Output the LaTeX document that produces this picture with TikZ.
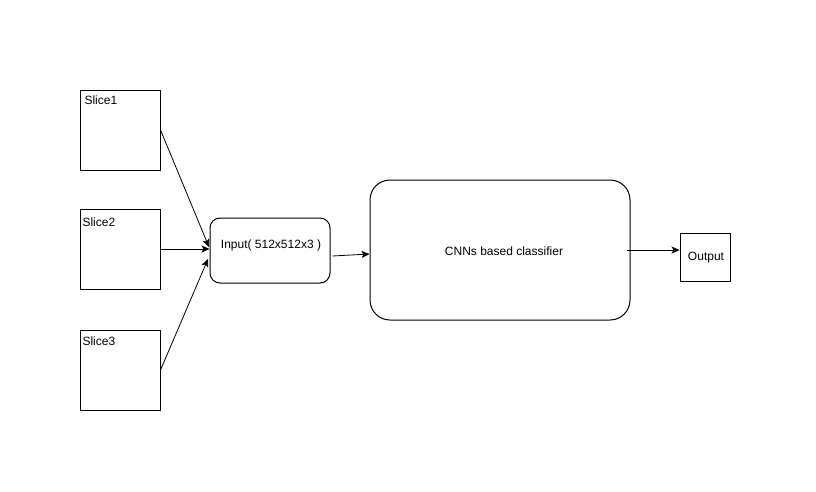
\documentclass[tikz,border=0pt]{standalone}
\usepackage{fontspec}
\setmainfont{Liberation Sans}
\usetikzlibrary{arrows.meta}
\begin{document}
\begin{tikzpicture}[x=1pt,y=-1pt,
  line width=1pt,
  slicebox/.style={draw, fill=white, minimum width=80pt, minimum height=80pt, inner sep=0pt},
  slicelabel/.style={anchor=north west, inner sep=0pt, font=\fontsize{12pt}{14pt}\selectfont},
  roundbox/.style={draw, fill=white, inner sep=0pt, font=\fontsize{12pt}{14pt}\selectfont},
  conn/.style={-{Stealth[length=8pt,width=7pt,inset=2pt]}, line width=0.8pt}]
  \useasboundingbox (0,0) rectangle (816,491);
  % three input slices
  \node[slicebox] (s1) at (120,130) {};
  \node[slicebox] (s2) at (120,249) {};
  \node[slicebox] (s3) at (120,370) {};
  \node[slicelabel] (l1) at (84,95) {Slice1};
  \node[slicelabel] (l2) at (82,217) {Slice2};
  \node[slicelabel] (l3) at (82,336) {Slice3};
  % stacked input
  \node[roundbox, rounded corners=10pt, minimum width=120pt, minimum height=65pt] (in) at (270,250.5) {};
  \node[font=\fontsize{12pt}{14pt}\selectfont, inner sep=0pt] (int) at (271,245) {Input( 512x512x3 )};
  % classifier
  \node[roundbox, rounded corners=20pt, minimum width=260pt, minimum height=140pt] (cnn) at (500,250) {};
  \node[font=\fontsize{12pt}{14pt}\selectfont, inner sep=0pt] (cnnt) at (504,251) {CNNs based classifier};
  % result
  \node[roundbox, minimum width=50pt, minimum height=48pt] (out) at (705,257) {};
  \node[font=\fontsize{12pt}{14pt}\selectfont, inner sep=0pt] (outt) at (706,258) {Output};
  % connectors
  \coordinate (t1) at (209,247);
  \coordinate (t3) at (208,259);
  \draw[conn] (s1.east) -- (t1);
  \draw[conn] (s2.east) -- (in.west |- s2.east);
  \draw[conn] (s3.east) -- (t3);
  \draw[conn] ([xshift=2pt,yshift=-5.5pt]in.east) -- ([yshift=-4pt]cnn.west);
  \draw[conn] ([xshift=-4pt]cnn.east) -- (out.west |- cnn.east);
\end{tikzpicture}
\end{document}
